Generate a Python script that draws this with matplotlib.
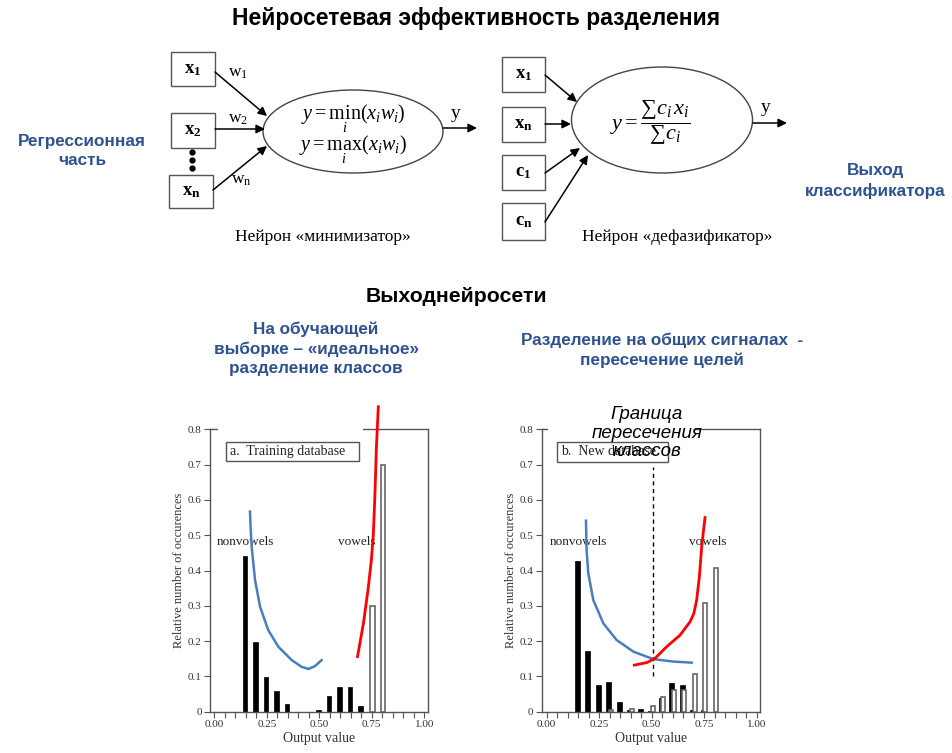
import matplotlib
matplotlib.use('Agg')
import matplotlib.pyplot as plt
from matplotlib.patches import Rectangle, Ellipse
import numpy as np

plt.rcParams['font.family'] = ['Liberation Sans', 'DejaVu Sans']
plt.rcParams['mathtext.fontset'] = 'custom'
plt.rcParams['mathtext.rm'] = 'Liberation Serif'
plt.rcParams['mathtext.it'] = 'Liberation Serif:italic'
plt.rcParams['mathtext.bf'] = 'Liberation Serif:bold'

# ---------------- data ----------------
bin_centers = [0.15, 0.20, 0.25, 0.30, 0.35, 0.40, 0.45, 0.50, 0.55, 0.60, 0.65, 0.70, 0.75, 0.80]
train_nonvowels = [0.441, 0.198, 0.097, 0.059, 0.022, 0, 0, 0.006, 0.044, 0.069, 0.069, 0.016, 0, 0]
train_vowels = [0, 0, 0, 0, 0, 0, 0, 0, 0, 0, 0, 0, 0.300, 0.700]
new_nonvowels = [0.428, 0.173, 0.077, 0.085, 0.027, 0.006, 0.007, 0.003, 0.040, 0.080, 0.075, 0.005, 0.004, 0]
new_vowels = [0, 0, 0, 0.005, 0, 0.008, 0, 0.017, 0.042, 0.062, 0.062, 0.107, 0.307, 0.406]

train_blue_x = [0.170, 0.173, 0.178, 0.194, 0.218, 0.257, 0.305, 0.369, 0.416, 0.448, 0.479, 0.511]
train_blue_y = [0.567, 0.520, 0.467, 0.373, 0.297, 0.231, 0.184, 0.146, 0.127, 0.121, 0.129, 0.146]
train_red_x = [0.682, 0.710, 0.732, 0.748, 0.757, 0.764, 0.772, 0.781]
train_red_y = [0.156, 0.250, 0.345, 0.430, 0.500, 0.600, 0.750, 0.864]

new_blue_x = [0.187, 0.190, 0.198, 0.222, 0.270, 0.333, 0.413, 0.508, 0.603, 0.690]
new_blue_y = [0.541, 0.458, 0.392, 0.316, 0.250, 0.203, 0.170, 0.149, 0.142, 0.139]
new_red_x = [0.417, 0.476, 0.516, 0.571, 0.635, 0.683, 0.701, 0.714, 0.727, 0.738, 0.748, 0.754]
new_red_y = [0.132, 0.139, 0.151, 0.184, 0.217, 0.255, 0.279, 0.316, 0.382, 0.467, 0.520, 0.550]
boundary_x = 0.508
boundary_y = [0.10, 0.694]

x_ticks = [0.00, 0.25, 0.50, 0.75, 1.00]
x_tick_labels = ['0.00', '0.25', '0.50', '0.75', '1.00']
x_minor_ticks = [0.05 * k for k in range(21)]
y_ticks = [0.0, 0.1, 0.2, 0.3, 0.4, 0.5, 0.6, 0.7, 0.8]
y_tick_labels = ['0', '0.1', '0.2', '0.3', '0.4', '0.5', '0.6', '0.7', '0.8']

left_inputs = [r'$\mathbf{x_1}$', r'$\mathbf{x_2}$', r'$\mathbf{x_n}$']
left_weights = [r'$\mathrm{w}_1$', r'$\mathrm{w}_2$', r'$\mathrm{w}_\mathrm{n}$']
right_inputs = [r'$\mathbf{x_1}$', r'$\mathbf{x_n}$', r'$\mathbf{c_1}$', r'$\mathbf{c_n}$']

W, H = 952, 753
BLUE_TXT = '#2E528F'
serif = 'Liberation Serif'

fig = plt.figure(figsize=(W / 100, H / 100), dpi=100)
fig.patch.set_facecolor('white')
ov = fig.add_axes([0, 0, 1, 1])
ov.set_xlim(0, W)
ov.set_ylim(H, 0)
ov.axis('off')

# ---------------- headings ----------------
ov.text(476, 18, 'Нейросетевая эффективность разделения', ha='center', va='center',
        fontsize=16.5, fontweight='bold', color='black')
ov.text(456, 296, 'Выходнейросети', ha='center', va='center', fontsize=15.3,
        fontweight='bold', color='black')
ov.text(316, 349, 'На обучающей\nвыборке – «идеальное»\nразделение классов', ha='center',
        va='center', fontsize=12.3, fontweight='bold', color=BLUE_TXT, linespacing=1.33)
ov.text(662, 350, 'Разделение на общих сигналах  -\nпересечение целей', ha='center',
        va='center', fontsize=12.3, fontweight='bold', color=BLUE_TXT, linespacing=1.33)
ov.text(82, 151, 'Регрессионная\nчасть', ha='center', va='center', fontsize=12.3,
        fontweight='bold', color=BLUE_TXT, linespacing=1.33)
ov.text(875, 181, 'Выход\nклассификатора', ha='center', va='center', fontsize=12.3,
        fontweight='bold', color=BLUE_TXT, linespacing=1.33)

# ---------------- diagrams ----------------
def arrow(p0, p1):
    ov.annotate('', xy=p1, xytext=p0,
                arrowprops=dict(arrowstyle='-|>', color='black', lw=1.1,
                                mutation_scale=13, shrinkA=0, shrinkB=0))

left_boxes = [(171, 52, 44, 34), (171, 113, 44, 35), (169, 175, 44, 33)]
for (bx, by, bw, bh), lab in zip(left_boxes, left_inputs):
    ov.add_patch(Rectangle((bx, by), bw, bh, fc='white', ec='#555', lw=1))
    ov.text(bx + bw / 2, by + bh / 2, lab, ha='center', va='center', fontsize=13.5)
ov.plot([192, 192, 192], [152, 160, 168], 'o', color='black', ms=3.5)
for (x, y), lab in zip([(238, 73), (238, 119), (241, 180)], left_weights):
    ov.text(x, y, lab, ha='center', va='center', fontsize=12.5)
arrow((215, 72), (267, 116))
arrow((215, 129), (265, 129))
arrow((213, 190), (267, 146))
ov.add_patch(Ellipse((353, 131.5), 180, 83, fc='white', ec='#444', lw=1))
ov.text(353, 119, r'$y=\underset{i}{\mathrm{min}}(x_i w_i)$', ha='center', va='center', fontsize=14.5)
ov.text(353, 150, r'$y=\underset{i}{\mathrm{max}}(x_i w_i)$', ha='center', va='center', fontsize=14.5)
arrow((443, 128), (477, 128))
ov.text(456, 113, 'y', ha='center', va='center', fontsize=14, family=serif)
ov.text(323, 237, 'Нейрон «минимизатор»', ha='center', va='center', fontsize=12.5, family=serif)

right_boxes = [(502, 57, 43, 35), (502, 107, 43, 35), (502, 155, 43, 35), (502, 203, 43, 37)]
for (bx, by, bw, bh), lab in zip(right_boxes, right_inputs):
    ov.add_patch(Rectangle((bx, by), bw, bh, fc='white', ec='#555', lw=1))
    ov.text(bx + bw / 2, by + bh / 2, lab, ha='center', va='center', fontsize=13.5)
arrow((545, 75), (577, 102))
arrow((545, 124), (571, 124))
arrow((545, 173), (580, 148))
arrow((545, 222), (588, 155))
ov.add_patch(Ellipse((662, 120), 181, 106, fc='white', ec='#444', lw=1))
ov.text(650, 123, r'$y=\dfrac{\sum c_i\, x_i}{\sum c_i}$', ha='center', va='center', fontsize=16)
arrow((753, 123), (787, 123))
ov.text(766, 107, 'y', ha='center', va='center', fontsize=14, family=serif)
ov.text(677, 237, 'Нейрон «дефазификатор»', ha='center', va='center', fontsize=12.5, family=serif)

# ---------------- charts ----------------
def make_ax(left_px, right_px, xlim):
    ax = fig.add_axes([left_px / W, (H - 711.7) / H, (right_px - left_px) / W, (711.7 - 429.3) / H])
    ax.set_xlim(*xlim)
    ax.set_ylim(0, 0.8)
    ax.set_xticks(x_ticks)
    ax.set_xticklabels(x_tick_labels)
    ax.set_xticks(x_minor_ticks, minor=True)
    ax.set_yticks(y_ticks)
    ax.set_yticklabels(y_tick_labels)
    ax.tick_params(axis='both', which='both', direction='out', length=4, width=0.8,
                   color='#555', labelsize=8, labelcolor='#333', pad=2)
    for lbl in ax.get_xticklabels() + ax.get_yticklabels():
        lbl.set_fontfamily(serif)
    for s in ax.spines.values():
        s.set_color('#555')
        s.set_linewidth(1)
    ax.set_xlabel('Output value', fontfamily=serif, fontsize=10, color='#333', labelpad=2)
    ax.set_ylabel('Relative number of occurences', fontfamily=serif, fontsize=9, color='#333', labelpad=2)
    return ax


def draw_bars(ax, vals, offset, width, face, edge, lw, z):
    xs = [c + offset for c, v in zip(bin_centers, vals) if v > 0]
    hs = [v for v in vals if v > 0]
    ax.bar(xs, hs, width=width, color=face, edgecolor=edge, linewidth=lw, zorder=z)


# chart a
ax_a = make_ax(210, 428, (-0.0205, 1.0176))
draw_bars(ax_a, train_nonvowels, -0.004, 0.022, 'black', 'black', 0.5, 2)
draw_bars(ax_a, train_vowels, 0.003, 0.02, 'white', '#666', 1.2, 3)
ax_a.add_patch(Rectangle((0.054, 0.71), 0.636, 0.055, fc='white', ec='#555', lw=1, zorder=3))
ax_a.text(0.075, 0.737, 'a.  Training database', va='center', ha='left', fontsize=10,
          family=serif, color='#222', zorder=4)
ax_a.text(0.01, 0.48, 'nonvowels', va='center', ha='left', fontsize=9.5, family=serif, color='#222')
ax_a.text(0.59, 0.48, 'vowels', va='center', ha='left', fontsize=9.5, family=serif, color='#222')
ax_a.add_patch(Rectangle((218, 398), 145, 33, fc='white', ec='none', transform=ov.transData,
                         clip_on=False, zorder=2.6))
ax_a.plot(train_blue_x, train_blue_y, color='#4A7EBB', lw=1.8, zorder=5)
ax_a.plot(train_red_x, train_red_y, color='#FF0000', lw=2, zorder=5, clip_on=False)

# chart b
ax_b = make_ax(541.7, 760, (-0.0238, 1.0157))
draw_bars(ax_b, new_nonvowels, -0.005, 0.023, 'black', 'black', 0.5, 2)
draw_bars(ax_b, new_vowels, 0.005, 0.02, 'white', '#666', 1.2, 3)
ax_b.add_patch(Rectangle((0.048, 0.708), 0.531, 0.056, fc='white', ec='#555', lw=1, zorder=3))
ax_b.text(0.068, 0.736, 'b.  New database', va='center', ha='left', fontsize=10,
          family=serif, color='#222', zorder=4)
ax_b.text(0.013, 0.48, 'nonvowels', va='center', ha='left', fontsize=9.5, family=serif, color='#222')
ax_b.text(0.678, 0.48, 'vowels', va='center', ha='left', fontsize=9.5, family=serif, color='#222')
ax_b.plot([boundary_x, boundary_x], boundary_y, color='black', lw=1, ls=(0, (3, 2.5)), zorder=4)
ax_b.plot(new_blue_x, new_blue_y, color='#4A7EBB', lw=1.8, zorder=5)
ax_b.plot(new_red_x, new_red_y, color='#FF0000', lw=2, zorder=5)
ax_b.add_patch(Rectangle((548, 398), 147, 35, fc='white', ec='none', transform=ov.transData,
                         clip_on=False, zorder=2.6))
ax_b.text(647, 433, 'Граница\nпересечения\nклассов', transform=ov.transData, ha='center',
          va='center', fontsize=13.5, style='italic', color='black', linespacing=1.12,
          clip_on=False, zorder=6)

fig.savefig('out.png', dpi=100, facecolor='white')
